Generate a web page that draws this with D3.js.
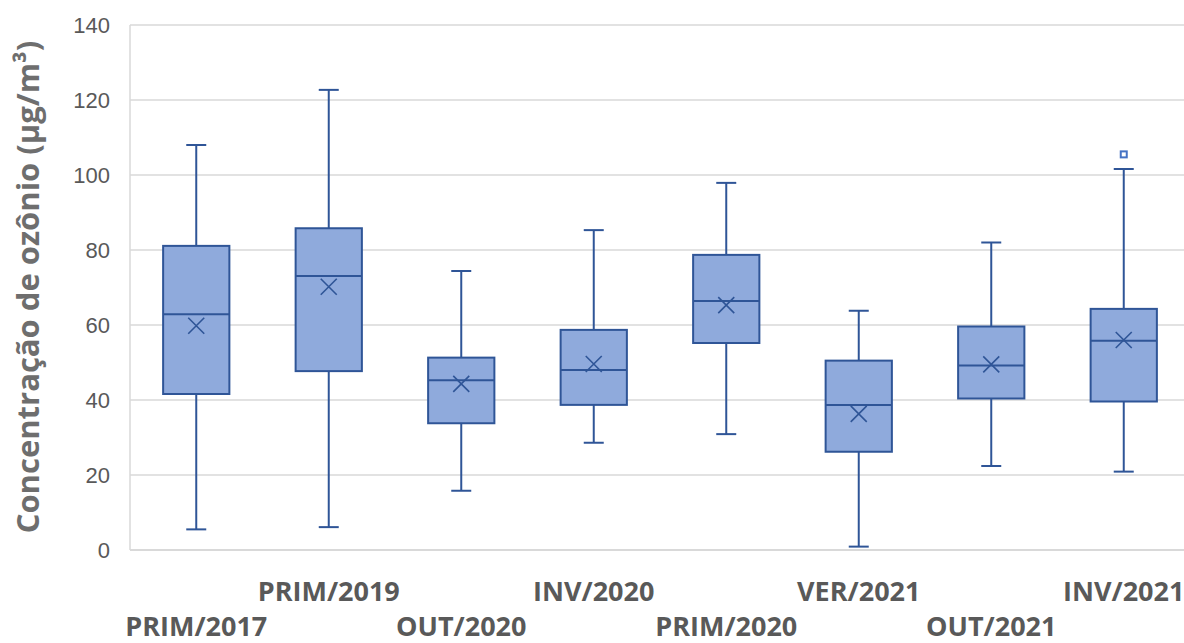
<!DOCTYPE html>
<html>
<head>
<meta charset="utf-8">
<script src="https://cdn.jsdelivr.net/npm/d3@7/dist/d3.min.js"></script>
<style>
  html, body { margin: 0; padding: 0; background: #ffffff; }
  svg { display: block; }
</style>
</head>
<body>
<div id="chart"></div>
<script>
// Ozone concentration by season (µg/m³): five-number summaries, means and outliers
const categories = ["PRIM/2017", "PRIM/2019", "OUT/2020", "INV/2020", "PRIM/2020", "VER/2021", "OUT/2021", "INV/2021"];
const whiskerLow  = [5.5, 6.1, 15.8, 28.6, 30.9, 0.9, 22.4, 20.9];
const q1Values    = [41.6, 47.7, 33.8, 38.7, 55.2, 26.2, 40.4, 39.6];
const medians     = [62.9, 73.1, 45.3, 48.0, 66.4, 38.7, 49.2, 55.8];
const q3Values    = [81.1, 85.8, 51.3, 58.7, 78.7, 50.5, 59.6, 64.3];
const whiskerHigh = [108.0, 122.7, 74.4, 85.3, 97.9, 63.8, 82.0, 101.6];
const means       = [59.8, 70.2, 44.3, 49.6, 65.3, 36.3, 49.5, 56.0];
const outliers    = [[], [], [], [], [], [], [], [105.5]];
const yTicks      = [0, 20, 40, 60, 80, 100, 120, 140];
const yTitle      = "Concentração de ozônio (μg/m³)";

const width = 1184, height = 643;
const plot = { left: 130, right: 1190, top: 25, bottom: 550 };

const svg = d3.select("#chart").append("svg")
  .attr("width", width).attr("height", height);

const x = d3.scaleBand().domain(categories).range([plot.left, plot.right]).padding(0);
const y = d3.scaleLinear().domain([0, 140]).range([plot.bottom, plot.top]);

const boxes = categories.map((c, i) => ({
  cat: c, lo: whiskerLow[i], q1: q1Values[i], med: medians[i],
  q3: q3Values[i], hi: whiskerHigh[i], mean: means[i], out: outliers[i]
}));

const gridColor = "#d9d9d9";
const boxFill = "#8faadc";
const boxStroke = "#2f5597";
const textGray = "#595959";

// Horizontal gridlines
svg.append("g").selectAll("line").data(yTicks).join("line")
  .attr("x1", plot.left).attr("x2", plot.right)
  .attr("y1", d => y(d)).attr("y2", d => y(d))
  .attr("stroke", gridColor).attr("stroke-width", d => d === 0 ? 2 : 1.5);

// Left border of the plot area
svg.append("line")
  .attr("x1", plot.left).attr("x2", plot.left)
  .attr("y1", y(140)).attr("y2", y(0))
  .attr("stroke", gridColor).attr("stroke-width", 1.5);

// Y axis tick labels
const yAxis = d3.axisLeft(y).tickValues(yTicks).tickSize(0).tickPadding(20);
const gy = svg.append("g").attr("transform", `translate(${plot.left},0)`).call(yAxis);
gy.select(".domain").remove();
gy.selectAll("text")
  .attr("fill", textGray)
  .style("font-family", "'Liberation Sans', Arial, sans-serif")
  .style("font-size", "22px");

// Y axis title
svg.append("text")
  .attr("transform", `translate(39, 287) rotate(-90)`)
  .attr("text-anchor", "middle")
  .attr("fill", "#6e6e6e")
  .style("font-family", "'Open Sans', sans-serif")
  .style("font-weight", 700)
  .style("font-size", "31px")
  .text(yTitle);

// Category labels, staggered on two rows
svg.append("g").selectAll("text").data(categories).join("text")
  .attr("x", d => x(d) + x.bandwidth() / 2)
  .attr("y", (d, i) => i % 2 === 1 ? 601 : 636)
  .attr("text-anchor", "middle")
  .attr("fill", textGray)
  .style("font-family", "'Open Sans', sans-serif")
  .style("font-weight", 700)
  .style("font-size", "27px")
  .text(d => d);

// Box plots
const boxW = x.bandwidth() * 0.5;
const capW = 20;
const g = svg.append("g").selectAll("g").data(boxes).join("g")
  .attr("transform", d => `translate(${x(d.cat) + x.bandwidth() / 2},0)`);

// Whiskers
g.append("line").attr("x1", 0).attr("x2", 0)
  .attr("y1", d => y(d.q3)).attr("y2", d => y(d.hi))
  .attr("stroke", boxStroke).attr("stroke-width", 2);
g.append("line").attr("x1", 0).attr("x2", 0)
  .attr("y1", d => y(d.q1)).attr("y2", d => y(d.lo))
  .attr("stroke", boxStroke).attr("stroke-width", 2);
g.append("line").attr("x1", -capW / 2).attr("x2", capW / 2)
  .attr("y1", d => y(d.hi)).attr("y2", d => y(d.hi))
  .attr("stroke", boxStroke).attr("stroke-width", 2);
g.append("line").attr("x1", -capW / 2).attr("x2", capW / 2)
  .attr("y1", d => y(d.lo)).attr("y2", d => y(d.lo))
  .attr("stroke", boxStroke).attr("stroke-width", 2);

// Interquartile box
g.append("rect")
  .attr("x", -boxW / 2).attr("width", boxW)
  .attr("y", d => y(d.q3)).attr("height", d => y(d.q1) - y(d.q3))
  .attr("fill", boxFill).attr("stroke", boxStroke).attr("stroke-width", 2);

// Median line
g.append("line").attr("x1", -boxW / 2).attr("x2", boxW / 2)
  .attr("y1", d => y(d.med)).attr("y2", d => y(d.med))
  .attr("stroke", boxStroke).attr("stroke-width", 2);

// Mean marker (X)
const m = 8;
g.append("path")
  .attr("d", d => {
    const cy = y(d.mean);
    return `M${-m},${cy - m}L${m},${cy + m}M${-m},${cy + m}L${m},${cy - m}`;
  })
  .attr("stroke", boxStroke).attr("stroke-width", 1.6).attr("fill", "none");

// Outliers
g.selectAll("rect.outlier").data(d => d.out).join("rect")
  .attr("class", "outlier")
  .attr("x", -3).attr("width", 6)
  .attr("y", v => y(v) - 3).attr("height", 6)
  .attr("fill", "#ffffff").attr("stroke", "#4472c4").attr("stroke-width", 2);
</script>
</body>
</html>
